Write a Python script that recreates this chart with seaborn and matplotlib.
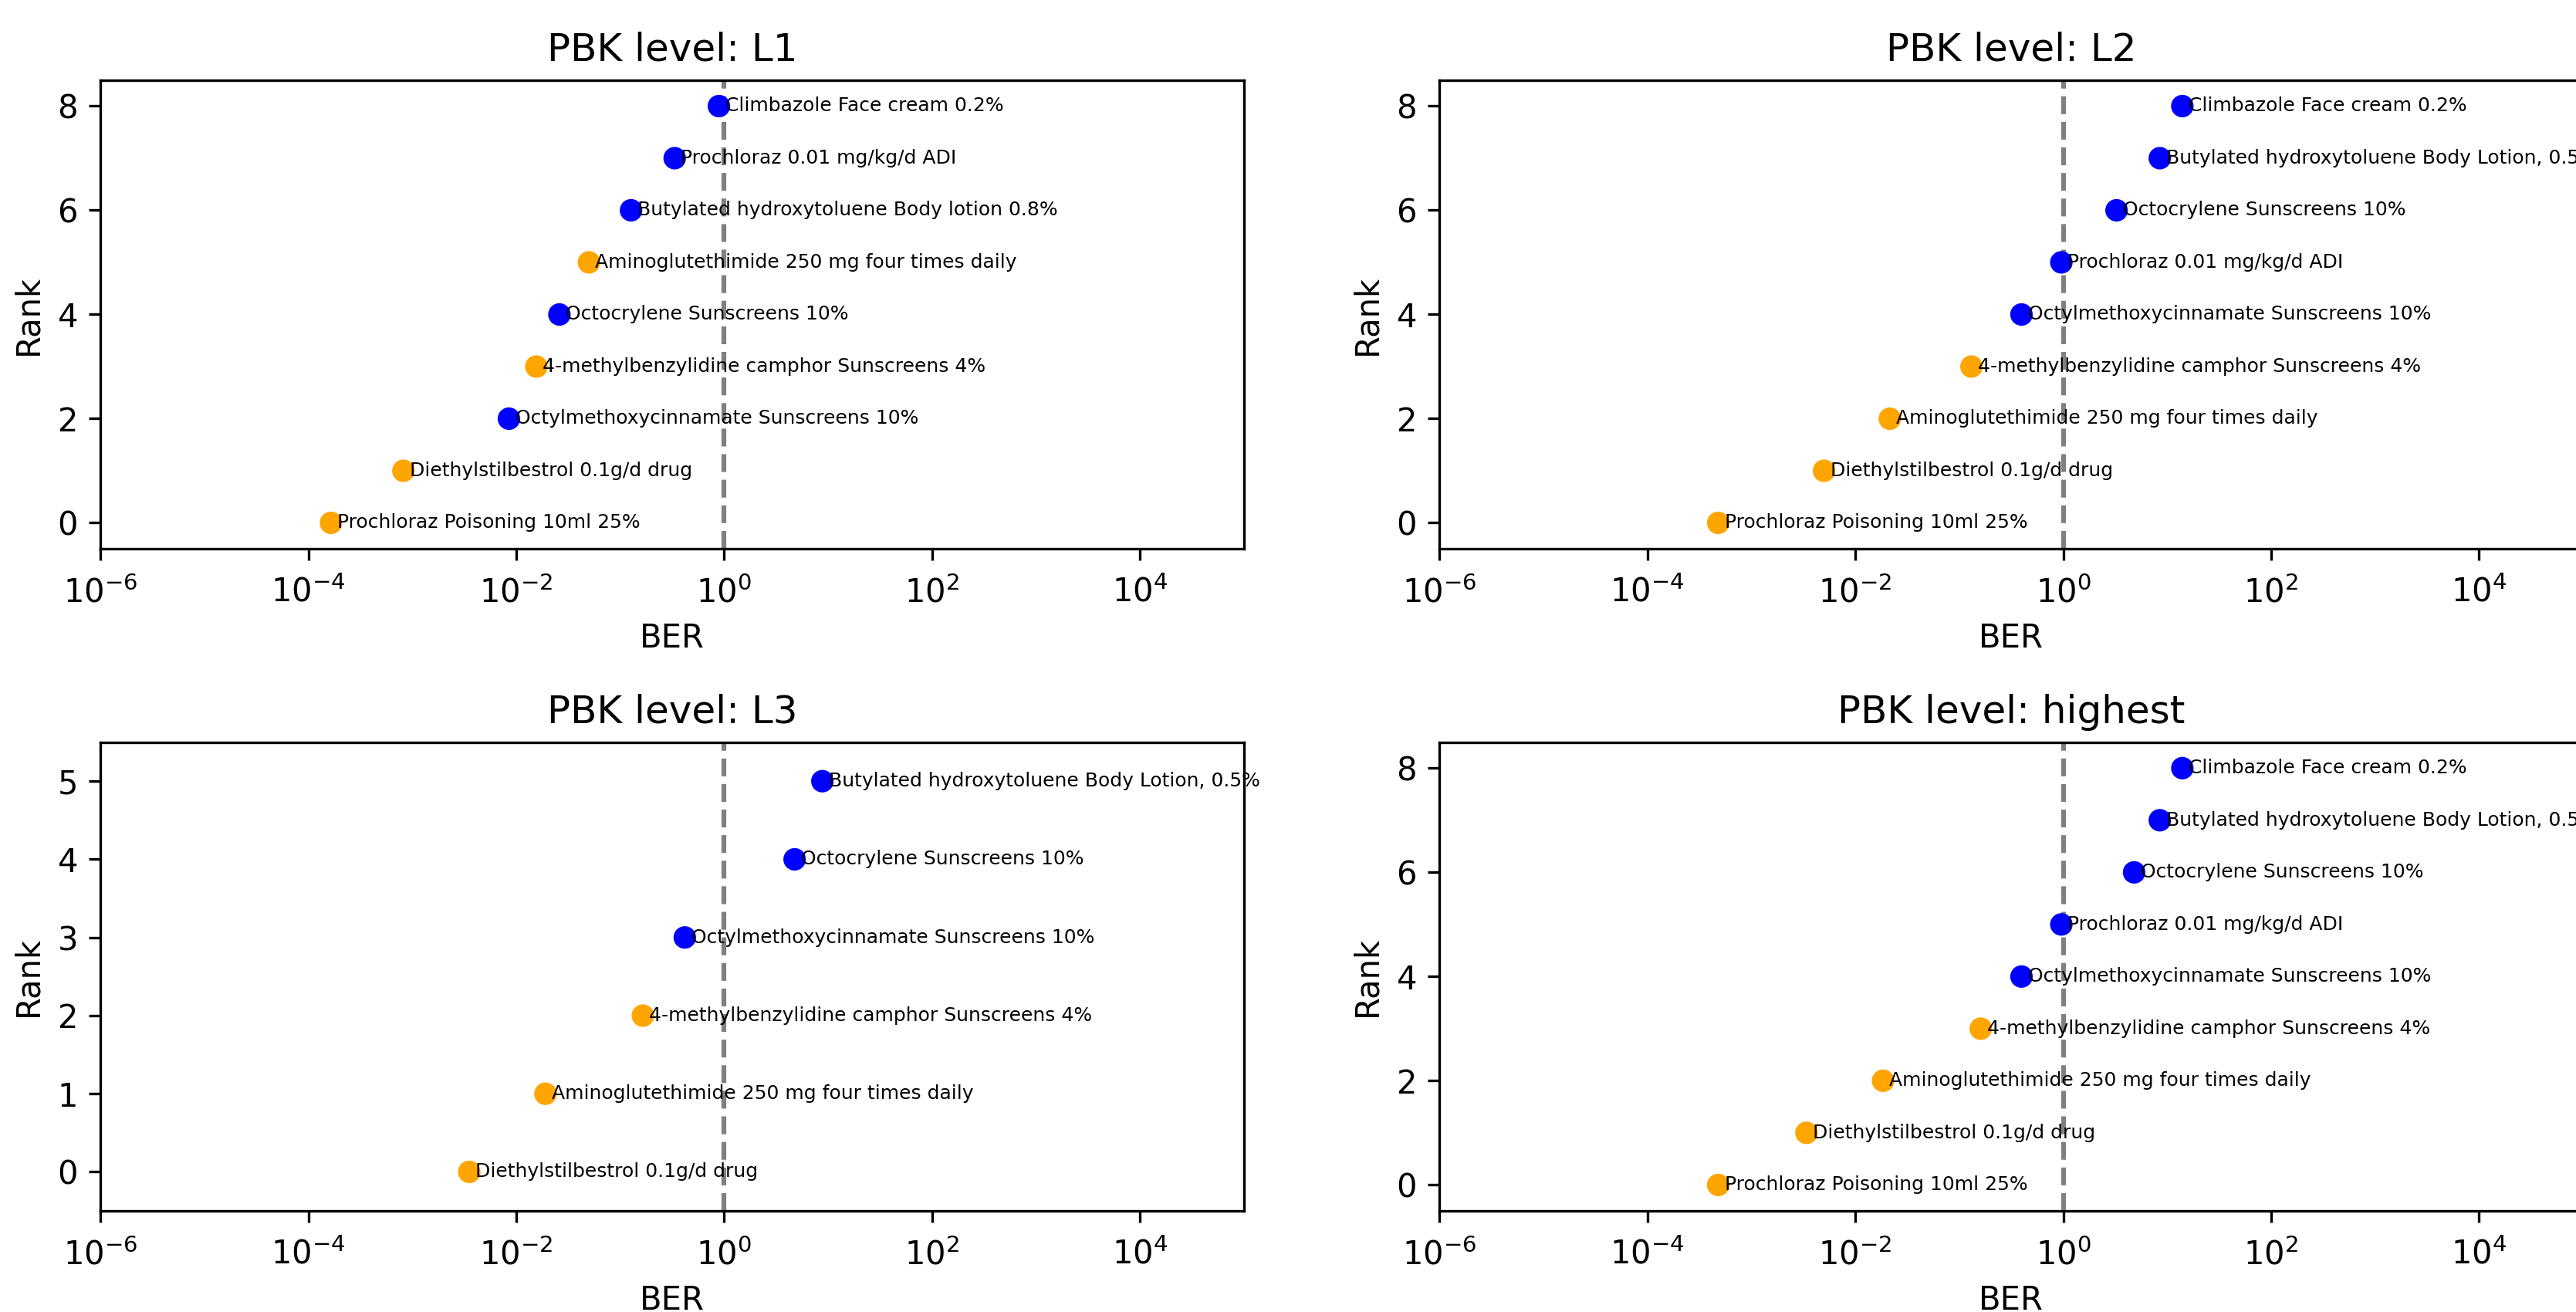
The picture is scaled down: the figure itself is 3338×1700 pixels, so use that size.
import pandas as pd
import matplotlib
matplotlib.use("Agg")
import matplotlib.pyplot as plt
import seaborn as sns
from matplotlib.ticker import NullLocator

# BER values read per PBK level, listed from rank 0 upwards
levels = ["L1", "L2", "L3", "highest"]

l1_labels = ["Prochloraz Poisoning 10ml 25%", "Diethylstilbestrol 0.1g/d drug",
             "Octylmethoxycinnamate Sunscreens 10%", "4-methylbenzylidine camphor Sunscreens 4%",
             "Octocrylene Sunscreens 10%", "Aminoglutethimide 250 mg four times daily",
             "Butylated hydroxytoluene Body lotion 0.8%", "Prochloraz 0.01 mg/kg/d ADI",
             "Climbazole Face cream 0.2%"]
l1_ber = [1.65e-4, 8.2e-4, 0.0085, 0.0156, 0.026, 0.050, 0.127, 0.334, 0.89]
l1_type = ["drug", "drug", "cosm", "drug", "cosm", "drug", "cosm", "cosm", "cosm"]

l2_labels = ["Prochloraz Poisoning 10ml 25%", "Diethylstilbestrol 0.1g/d drug",
             "Aminoglutethimide 250 mg four times daily", "4-methylbenzylidine camphor Sunscreens 4%",
             "Octylmethoxycinnamate Sunscreens 10%", "Prochloraz 0.01 mg/kg/d ADI",
             "Octocrylene Sunscreens 10%", "Butylated hydroxytoluene Body Lotion, 0.5%",
             "Climbazole Face cream 0.2%"]
l2_ber = [4.8e-4, 0.0050, 0.0215, 0.131, 0.397, 0.96, 3.26, 8.5, 14.0]
l2_type = ["drug", "drug", "drug", "drug", "cosm", "cosm", "cosm", "cosm", "cosm"]

l3_labels = ["Diethylstilbestrol 0.1g/d drug", "Aminoglutethimide 250 mg four times daily",
             "4-methylbenzylidine camphor Sunscreens 4%", "Octylmethoxycinnamate Sunscreens 10%",
             "Octocrylene Sunscreens 10%", "Butylated hydroxytoluene Body Lotion, 0.5%"]
l3_ber = [0.00353, 0.0191, 0.165, 0.418, 4.76, 8.8]
l3_type = ["drug", "drug", "drug", "cosm", "cosm", "cosm"]

hi_labels = ["Prochloraz Poisoning 10ml 25%", "Diethylstilbestrol 0.1g/d drug",
             "Aminoglutethimide 250 mg four times daily", "4-methylbenzylidine camphor Sunscreens 4%",
             "Octylmethoxycinnamate Sunscreens 10%", "Prochloraz 0.01 mg/kg/d ADI",
             "Octocrylene Sunscreens 10%", "Butylated hydroxytoluene Body Lotion, 0.5%",
             "Climbazole Face cream 0.2%"]
hi_ber = [4.8e-4, 0.00339, 0.0185, 0.161, 0.397, 0.96, 4.81, 8.5, 14.0]
hi_type = ["drug", "drug", "drug", "drug", "cosm", "cosm", "cosm", "cosm", "cosm"]

x_ticks = [1e-6, 1e-4, 1e-2, 1e0, 1e2, 1e4]
palette = {"cosm": "blue", "drug": "orange"}


def build_frame(labels, ber, kind):
    df = pd.DataFrame({"label": labels, "BER": ber, "type": kind})
    df["Rank"] = range(len(df))
    return df


frames = [build_frame(l1_labels, l1_ber, l1_type),
          build_frame(l2_labels, l2_ber, l2_type),
          build_frame(l3_labels, l3_ber, l3_type),
          build_frame(hi_labels, hi_ber, hi_type)]

fig, axes = plt.subplots(2, 2, figsize=(3338 / 300, 1700 / 300), dpi=300)
fig.subplots_adjust(left=0.039, right=1.0027, bottom=0.077, top=0.939,
                    wspace=0.171, hspace=0.412)

for ax, level, df in zip(axes.flat, levels, frames):
    sns.scatterplot(data=df, x="BER", y="Rank", hue="type", palette=palette,
                    s=36, linewidth=1, edgecolor="face", legend=False, ax=ax, zorder=3)
    for _, row in df.iterrows():
        ax.text(row["BER"] * 1.15, row["Rank"], row["label"], fontsize=6, va="center")
    ax.axvline(1, color="gray", linestyle="--")
    ax.set_xscale("log")
    ax.set_xlim(1e-6, 1e5)
    ax.set_xticks(x_ticks)
    ax.xaxis.set_minor_locator(NullLocator())
    ax.tick_params(axis="x", pad=5)
    ax.set_ylim(-0.5, len(df) - 0.5)
    ax.set_title(f"PBK level: {level}")
    ax.set_xlabel("BER")
    ax.set_ylabel("Rank")

plt.savefig("out.png", dpi=300)
